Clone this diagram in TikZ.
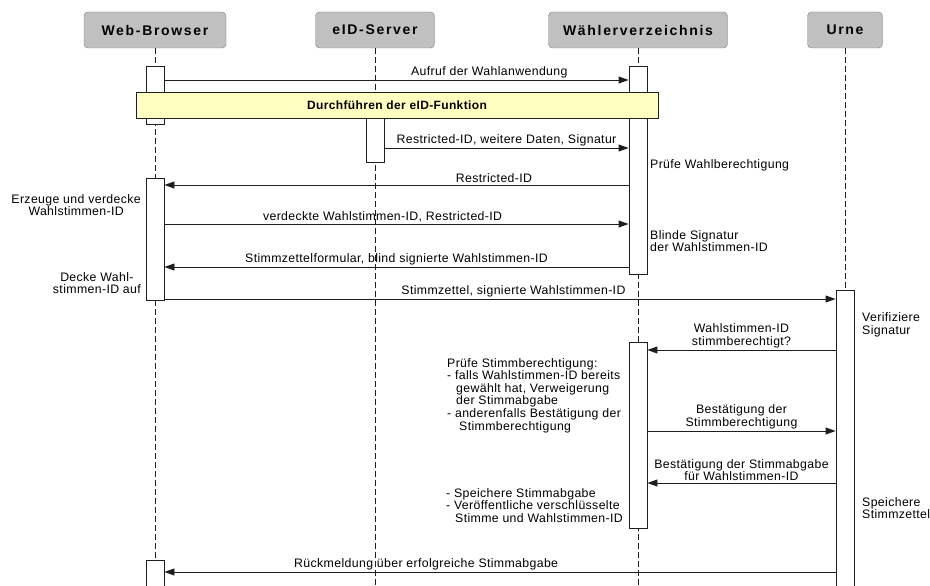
\documentclass[tikz,border=0pt]{standalone}
\usepackage{fontspec}
\setmainfont[LetterSpace=3]{Liberation Sans}
\newfontfamily\headfont[LetterSpace=12]{Liberation Sans}
\usetikzlibrary{arrows.meta,positioning}

\definecolor{headfill}{RGB}{192,192,192}
\definecolor{headline}{RGB}{128,128,128}
\definecolor{linec}{RGB}{30,30,30}
\definecolor{notefill}{RGB}{255,255,192}

\tikzset{
  head/.style={draw=headline, fill=headfill, rounded corners=4pt, minimum height=36pt, font=\headfont\fontsize{14}{16}\selectfont\bfseries},
  life/.style={draw=linec, line width=0.9pt, dash pattern=on 6pt off 3pt},
  act/.style={draw=linec, line width=0.9pt, fill=white, minimum width=18pt, inner sep=0pt, anchor=north},
  msg/.style={draw=linec, line width=0.9pt, -{Triangle[length=10pt,width=7pt]}},
  lbl/.style={font=\fontsize{12.3}{12.6}\selectfont, inner sep=1.5pt, above, align=center},
  note/.style={font=\fontsize{12.3}{12.6}\selectfont, inner sep=0pt, align=left}
}

\begin{document}
\begin{tikzpicture}[x=1pt,y=-1pt]
  \useasboundingbox (0,0) rectangle (930,586);
  % Teilnehmer
  \node[head, minimum width=142pt] (wb) at (155,30) {Web-Browser};
  \node[head, minimum width=119pt] (eid) at (375,30) {eID-Server};
  \node[head, minimum width=179pt] (wv) at (638,30) {Wählerverzeichnis};
  \node[head, minimum width=75pt] (urne) at (845,30) {Urne};
  \foreach \n in {wb,eid,wv,urne}
    \draw[life] (\n.south) -- (\n.south |- 0,586);

  % Aktivierungen
  \node[act, minimum height=58pt] (wb1) at (155,66) {};
  \node[act, minimum height=208pt] (wv1) at (638,66) {};
  \node[act, minimum height=45pt] (eid1) at (375,117) {};
  \node[act, minimum height=122pt] (wb2) at (155,178) {};
  \node[act, minimum height=300pt] (urne1) at (845,290) {};
  \node[act, minimum height=186pt] (wv2) at (638,342) {};
  \node[act, minimum height=40pt] (wb3) at (155,560) {};

  \draw[msg] (wb1.east |- 0,80) -- node[lbl, pos=0.7] {Aufruf der Wahlanwendung} (wv1.west |- 0,80);

  \node[draw=linec, line width=0.9pt, fill=notefill, minimum width=522pt, minimum height=26pt, font=\fontsize{12}{14}\selectfont\bfseries] (eidf) at (397,105) {Durchführen der eID-Funktion};

  \draw[msg] (eid1.east |- 0,148) -- node[lbl] {Restricted-ID, weitere Daten, Signatur} (wv1.west |- 0,148);
  \node[note, anchor=west] (n1) at (650,165) {Prüfe Wahlberechtigung};
  \draw[msg] (wv1.west |- 0,185) -- node[lbl, pos=0.29] {Restricted-ID} (wb2.east |- 0,185);
  \node[note, align=center, anchor=east] (n2) at (141,205) {Erzeuge und verdecke\\Wahlstimmen-ID};
  \draw[msg] (wb2.east |- 0,224) -- node[lbl, pos=0.47] {verdeckte Wahlstimmen-ID, Restricted-ID} (wv1.west |- 0,224);
  \node[note, anchor=west] (n3) at (650,241) {Blinde Signatur\\der Wahlstimmen-ID};
  \draw[msg] (wv1.west |- 0,267) -- node[lbl] {Stimmzettelformular, blind signierte Wahlstimmen-ID} (wb2.east |- 0,267);
  \node[note, align=center, anchor=east] (n4) at (141,283) {Decke Wahl-\\stimmen-ID auf};
  \draw[msg] (wb2.east |- 0,299) -- node[lbl, pos=0.52] {Stimmzettel, signierte Wahlstimmen-ID} (urne1.west |- 0,299);
  \node[note, anchor=west] (n5) at (862,325) {Verifiziere\\Signatur};

  \draw[msg] (urne1.west |- 0,350) -- node[lbl] {Wahlstimmen-ID\\stimmberechtigt?} (wv2.east |- 0,350);
  \node[note, anchor=north west] (n6) at (447,358) {Prüfe Stimmberechtigung:\\- falls Wahlstimmen-ID bereits\\\hspace*{9pt}gewählt hat, Verweigerung\\\hspace*{9pt}der Stimmabgabe\\- anderenfalls Bestätigung der\\\hspace*{12pt}Stimmberechtigung};
  \draw[msg] (wv2.east |- 0,431) -- node[lbl] {Bestätigung der\\Stimmberechtigung} (urne1.west |- 0,431);
  \draw[msg] (urne1.west |- 0,483) -- node[lbl] {Bestätigung der Stimmabgabe\\für Wahlstimmen-ID} (wv2.east |- 0,483);
  \node[note, anchor=north east] (n7) at (623,488) {- Speichere Stimmabgabe\\- Veröffentliche verschlüsselte\\\hspace*{9pt}Stimme und Wahlstimmen-ID};
  \node[note, anchor=west] (n8) at (862,508) {Speichere\\Stimmzettel};
  \draw[msg] (urne1.west |- 0,572) -- node[lbl, pos=0.61] {Rückmeldung über erfolgreiche Stimmabgabe} (wb3.east |- 0,572);
\end{tikzpicture}
\end{document}
